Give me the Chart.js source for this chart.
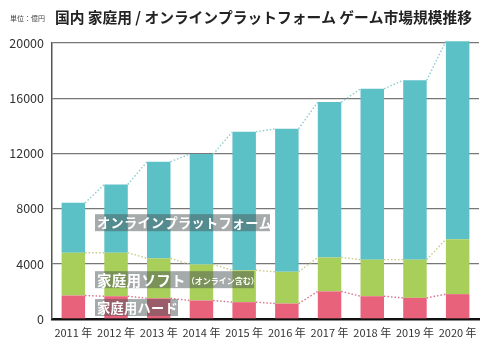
<!DOCTYPE html>
<html><head><meta charset="utf-8">
<script src="https://cdn.jsdelivr.net/npm/chart.js@4/dist/chart.umd.min.js"></script>
<style>html,body{margin:0;padding:0;background:#fff;}canvas{display:block;}</style>
</head><body>
<canvas id="c" width="499" height="345"></canvas>
<script>
const categories = ["2011","2012","2013","2014","2015","2016","2017","2018","2019","2020"];
const hardware = [1700,1650,1500,1340,1220,1120,2000,1650,1530,1800];
const software = [3100,3150,2900,2610,2310,2300,2460,2650,2770,3980];
const online   = [3620,4950,7000,8000,10030,10360,11260,12380,13000,14350];
const yTicks = [0,4000,8000,12000,16000,20000];
const title = "国内 家庭用 / オンラインプラットフォーム ゲーム市場規模推移";
const unitLabel = "単位：億円";
const seriesLabels = ["家庭用ハード","家庭用ソフト","オンラインプラットフォーム"];
const softSub = "（オンライン含む）";

const FONT = '"Noto Sans CJK JP","Noto Sans",sans-serif';
const colors = ["#e9627c","#a9cf5b","#5cc0c7"];
const dotColors = ["#d7708a","#c9c98a","#8ccccf"];

const connectors = {
  id:'connectors',
  afterDatasetsDraw(chart){
    const ctx = chart.ctx;
    ctx.save();
    ctx.lineWidth = 1.4;
    ctx.setLineDash([1.5,2]);
    chart.data.datasets.forEach((ds,d)=>{
      const meta = chart.getDatasetMeta(d);
      ctx.strokeStyle = dotColors[d];
      for(let i=0;i<meta.data.length-1;i++){
        const a = meta.data[i], b = meta.data[i+1];
        ctx.beginPath();
        ctx.moveTo(a.x + a.width/2, a.y);
        ctx.lineTo(b.x - b.width/2, b.y);
        ctx.stroke();
      }
    });
    ctx.restore();
  }
};

const labelsPlugin = {
  id:'labelBoxes',
  afterDatasetsDraw(chart){
    const ctx = chart.ctx;
    const y = chart.scales.y;
    const x0 = chart.chartArea.left + 43;
    ctx.save();
    ctx.textBaseline = 'middle';
    function box(text, val, w, fs, sub){
      const cy = y.getPixelForValue(val);
      ctx.fillStyle = 'rgba(75,85,85,0.5)';
      ctx.fillRect(x0, cy-8.5, w, 17);
      ctx.fillStyle = '#fff';
      ctx.font = 'bold '+fs+'px '+FONT;
      ctx.letterSpacing = '0.3px';
      ctx.fillText(text, x0+2, cy+0.5);
      if(sub){
        const tw = ctx.measureText(text).width;
        ctx.font = 'bold 8px '+FONT;
        ctx.letterSpacing = '0px';
        ctx.fillText(sub, x0+2+tw+1, cy+1);
      }
    }
    box(seriesLabels[2], 6980, 175, 13.2, null);
    box(seriesLabels[1], 2850, 159, 14.5, softSub);
    box(seriesLabels[0], 830, 83, 13.2, null);
    ctx.restore();
  }
};

const titlePlugin = {
  id:'titles',
  afterDraw(chart){
    const ctx = chart.ctx;
    ctx.save();
    ctx.fillStyle = '#222';
    ctx.textBaseline = 'middle';
    ctx.font = 'bold 14px '+FONT;
    let w = ctx.measureText(title).width;
    const target = 417;
    const fs = 14*target/w;
    ctx.font = 'bold '+fs.toFixed(2)+'px '+FONT;
    ctx.fillText(title, 55, 17);
    ctx.fillStyle = '#444';
    ctx.font = '7px '+FONT;
    ctx.fillText(unitLabel, 10, 18);
    ctx.restore();
  }
};

new Chart(document.getElementById('c'), {
  type:'bar',
  data:{
    labels: categories.map(c=>c+' 年'),
    datasets:[
      {label:seriesLabels[0], data:hardware, backgroundColor:colors[0]},
      {label:seriesLabels[1], data:software, backgroundColor:colors[1]},
      {label:seriesLabels[2], data:online, backgroundColor:colors[2], clip:false}
    ]
  },
  options:{
    responsive:false,
    devicePixelRatio:1,
    animation:false,
    layout:{padding:{top:43,right:20,left:0,bottom:0}},
    datasets:{bar:{barPercentage:0.55,categoryPercentage:1,borderWidth:0}},
    plugins:{legend:{display:false},tooltip:{enabled:false}},
    scales:{
      x:{
        stacked:true,
        grid:{display:false, drawTicks:false},
        border:{display:true,color:'#111',width:2.5},
        ticks:{color:'#333',font:{family:FONT,size:11},padding:7,maxRotation:0,autoSkip:false},
        afterFit(s){ s.height = 26; }
      },
      y:{
        stacked:true,
        min:0,max:20000,
        afterBuildTicks(s){ s.ticks = yTicks.map(v=>({value:v})); },
        grid:{color:'#777',lineWidth:1.3,drawTicks:false},
        border:{display:true,color:'#555',width:1.5},
        ticks:{color:'#333',font:{family:FONT,size:12.5},padding:8,callback:(v)=>String(v)},
        afterFit(s){ s.width = 52; }
      }
    }
  },
  plugins:[connectors,labelsPlugin,titlePlugin]
});
</script>
</body></html>
